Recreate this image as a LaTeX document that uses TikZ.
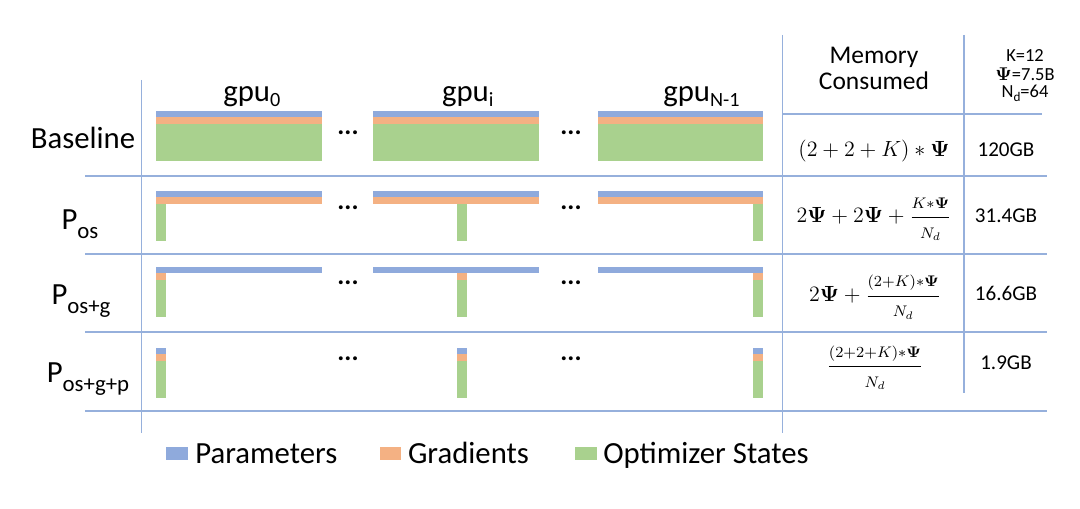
\RequirePackage{fix-cm}
\documentclass[tikz,border=0pt]{standalone}
\usepackage{amsmath}
\usepackage[no-math]{fontspec}
\setmainfont{Carlito}
\usetikzlibrary{positioning}

\definecolor{parblue}{RGB}{143,170,220}
\definecolor{gradorange}{RGB}{244,177,131}
\definecolor{optgreen}{RGB}{169,209,142}
\definecolor{gridblue}{RGB}{150,176,220}

\newcommand{\gsub}[1]{\raisebox{-3pt}{\fontsize{11.5}{12}\selectfont #1}}
\newcommand{\psub}[1]{P\raisebox{-5pt}{\fontsize{13}{14}\selectfont #1}}
\newcommand{\bPsi}{\mathbf{\Psi}}
\newcommand{\sfrac}[2]{\dfrac{\scriptstyle #1}{\scriptstyle #2}}

\begin{document}
\begin{tikzpicture}[x=0.02cm,y=-0.02cm,
  gridline/.style={draw=gridblue,line width=0.75pt},
  bigtxt/.style={font=\fontsize{17.5}{19}\selectfont,inner sep=0pt},
  memtxt/.style={font=\fontsize{14.5}{16}\selectfont,inner sep=0pt},
  valtxt/.style={font=\fontsize{12}{13}\selectfont,inner sep=0pt},
  parmtxt/.style={font=\fontsize{10.5}{12}\selectfont,inner sep=0pt},
  formtxt/.style={font=\fontsize{12.5}{14}\selectfont,inner sep=0pt},
  dottxt/.style={font=\fontsize{15}{15}\selectfont\bfseries,inner sep=0pt},
  swatch/.style={minimum width=0.44cm,minimum height=0.26cm,inner sep=0pt}]
\useasboundingbox (0,0) rectangle (1080,509);

% grid
\draw[gridline] (141.7,80) -- (141.7,433);
\draw[gridline] (782.7,35) -- (782.7,433);
\draw[gridline] (964,35) -- (964,393);
\draw[gridline] (782.7,114) -- (1042,114);
\foreach \y in {176,254,332,411}
  \draw[gridline] (85,\y) -- (1047,\y);

% bars: bar left / strip left
\foreach \x/\s in {156/156,373.3/456.7,597.7/753.3}{
  % Baseline
  \fill[parblue]    (\x,111) rectangle ++(165.5,6.5);
  \fill[gradorange] (\x,117.5) rectangle ++(165.5,6.5);
  \fill[optgreen]   (\x,124) rectangle ++(165.5,37.5);
  % P_os
  \fill[parblue]    (\x,191) rectangle ++(165.5,6.5);
  \fill[gradorange] (\x,197.5) rectangle ++(165.5,6.5);
  \fill[optgreen]   (\s,204) rectangle ++(10,37.5);
  % P_os+g
  \fill[parblue]    (\x,267) rectangle ++(165.5,6.5);
  \fill[gradorange] (\s,273.5) rectangle ++(10,6.5);
  \fill[optgreen]   (\s,280) rectangle ++(10,37);
  % P_os+g+p
  \fill[parblue]    (\s,348) rectangle ++(10,6.5);
  \fill[gradorange] (\s,354.5) rectangle ++(10,6.5);
  \fill[optgreen]   (\s,361) rectangle ++(10,37.5);
}
\foreach \y [count=\i] in {133,208,283,359}{
  \node[dottxt] (dl\i) at (348,\y) {...};
  \node[dottxt] (dr\i) at (571,\y) {...};
}

% column heads
\node[bigtxt,anchor=base west] (gpu0) at (223,101.7) {gpu\gsub{0}};
\node[bigtxt,anchor=base west] (gpui) at (441.7,101.7) {gpu\gsub{i}};
\node[bigtxt,anchor=base west] (gpun) at (663,101.7) {gpu\gsub{N-1}};
\node[memtxt,anchor=base] (mem) at (874,63.3) {Memory};
\node[memtxt,anchor=base] (cons) at (874,90) {Consumed};
\node[parmtxt,anchor=base] (kval) at (1025,62) {K=12};
\node[parmtxt,anchor=base] (psival) at (1025,80.7) {$\bPsi$=7.5B};
\node[parmtxt,anchor=base] (ndval) at (1025,98) {N\raisebox{-2pt}{\fontsize{7.5}{8}\selectfont d}=64};

% row heads
\node[bigtxt,anchor=base] (base) at (83,149) {Baseline};
\node[bigtxt,anchor=base] (pos) at (80,230) {\psub{os}};
\node[bigtxt,anchor=base] (posg) at (81,305) {\psub{os+g}};
\node[bigtxt,anchor=base] (posgp) at (88,383) {\psub{os+g+p}};

% memory
\node[formtxt,anchor=base] (f1) at (874,156.7) {$(2+2+K)*\bPsi$};
\node[formtxt,anchor=base] (f2) at (874,223) {$2\bPsi+2\bPsi+\sfrac{K*\bPsi}{N_d}$};
\node[formtxt,anchor=base] (f3) at (875,301.7) {$2\bPsi+\sfrac{(2+K)*\bPsi}{N_d}$};
\node[formtxt,anchor=base] (f4) at (875,372) {$\sfrac{(2+2+K)*\bPsi}{N_d}$};
\node[valtxt,anchor=base] (v1) at (1006,156.7) {120GB};
\node[valtxt,anchor=base] (v2) at (1006,223) {31.4GB};
\node[valtxt,anchor=base] (v3) at (1006,300.7) {16.6GB};
\node[valtxt,anchor=base] (v4) at (1006,370) {1.9GB};

% legend
\node[swatch,fill=parblue] (sw1) at (177,454) {};
\node[swatch,fill=gradorange] (sw2) at (390.5,454) {};
\node[swatch,fill=optgreen] (sw3) at (586,454) {};
\node[bigtxt,anchor=base west] (lg1) at (195,464) {Parameters};
\node[bigtxt,anchor=base west] (lg2) at (407.7,464) {Gradients};
\node[bigtxt,anchor=base west] (lg3) at (603,464) {Optimizer States};
\end{tikzpicture}
\end{document}
